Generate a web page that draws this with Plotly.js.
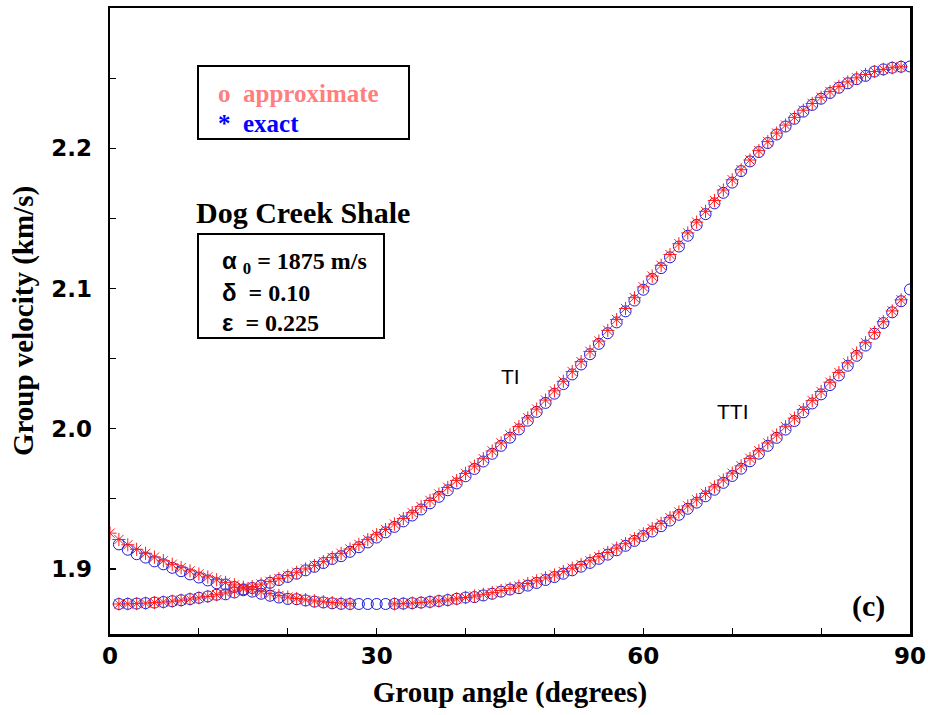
<!DOCTYPE html>
<html>
<head>
<meta charset="utf-8">
<script src="https://cdn.plot.ly/plotly-3.0.1.min.js"></script>
<style>html,body{margin:0;padding:0;background:#fff;} #chart{width:928px;height:715px;}</style>
</head>
<body>
<div id="chart"></div>
<script>
// Group angle (degrees), 0..90 in 1-degree steps
const angles = [0,1,2,3,4,5,6,7,8,9,10,11,12,13,14,15,16,17,18,19,20,21,22,23,24,25,26,27,28,29,30,31,32,33,34,35,36,37,38,39,40,41,42,43,44,45,46,47,48,49,50,51,52,53,54,55,56,57,58,59,60,61,62,63,64,65,66,67,68,69,70,71,72,73,74,75,76,77,78,79,80,81,82,83,84,85,86,87,88,89,90];

// TI curve, exact (red asterisks), km/s
const tiExact = [null,1.8750,1.8751,1.8753,1.8756,1.8760,1.8764,1.8770,1.8777,1.8785,
 1.8794,1.8804,1.8816,1.8829,1.8842,1.8858,1.8874,1.8892,1.8911,1.8931,
 1.8953,1.8976,1.9000,1.9025,1.9052,1.9081,1.9111,1.9142,1.9175,1.9209,
 1.9244,1.9281,1.9320,1.9359,1.9401,1.9444,1.9488,1.9534,1.9581,1.9630,
 1.9681,1.9733,1.9786,1.9841,1.9898,1.9956,2.0015,2.0077,2.0140,2.0204,
 2.0270,2.0338,2.0407,2.0478,2.0551,2.0625,2.0701,2.0778,2.0857,2.0934,
 2.1011,2.1088,2.1165,2.1242,2.1319,2.1396,2.1473,2.1550,2.1627,2.1702,
 2.1775,2.1847,2.1916,2.1983,2.2047,2.2108,2.2165,2.2220,2.2271,2.2319,
 2.2363,2.2404,2.2441,2.2473,2.2502,2.2526,2.2547,2.2562,2.2574,2.2581,null];

// TI curve, approximate (blue circles), km/s
const tiApprox = [null,1.8750,1.8751,1.8753,1.8756,1.8760,1.8764,1.8770,1.8777,1.8785,
 1.8794,1.8804,1.8816,1.8819,1.8832,1.8848,1.8864,1.8882,1.8901,1.8921,
 1.8943,1.8966,1.8990,1.9015,1.9042,1.9071,1.9091,1.9122,1.9155,1.9189,
 1.9224,1.9261,1.9300,1.9339,1.9381,1.9424,1.9468,1.9514,1.9561,1.9610,
 1.9661,1.9713,1.9766,1.9821,1.9878,1.9936,1.9995,2.0057,2.0120,2.0184,
 2.0250,2.0318,2.0387,2.0458,2.0531,2.0605,2.0681,2.0758,2.0837,2.0914,
 2.0991,2.1068,2.1145,2.1222,2.1299,2.1376,2.1453,2.1530,2.1607,2.1682,
 2.1755,2.1837,2.1906,2.1973,2.2037,2.2098,2.2155,2.2210,2.2261,2.2309,
 2.2353,2.2394,2.2431,2.2463,2.2492,2.2516,2.2547,2.2562,2.2574,2.2581,2.2583];

// TTI curve, exact (red asterisks), km/s
const ttiExact = [1.9255,1.9210,1.9172,1.9140,1.9111,1.9084,1.9058,1.9033,1.9009,1.8986,
 1.8964,1.8943,1.8923,1.8904,1.8886,1.8869,1.8853,1.8838,1.8824,1.8811,
 1.8799,1.8789,1.8780,1.8772,1.8766,1.8760,1.8756,1.8753,null,null,
 null,null,1.8751,1.8753,1.8756,1.8760,1.8765,1.8771,1.8778,1.8787,
 1.8796,1.8807,1.8819,1.8831,1.8846,1.8861,1.8878,1.8896,1.8915,1.8936,
 1.8957,1.8981,1.9005,1.9031,1.9058,1.9087,1.9117,1.9148,1.9180,1.9215,
 1.9250,1.9287,1.9325,1.9365,1.9406,1.9449,1.9493,1.9538,1.9585,1.9634,
 1.9683,1.9735,1.9788,1.9842,1.9898,1.9955,2.0014,2.0075,2.0137,2.0200,
 2.0265,2.0331,2.0400,2.0469,2.0540,2.0613,2.0687,2.0763,2.0840,2.0919,null];

// TTI curve, approximate (blue circles), km/s
const ttiApprox = [null,1.9175,1.9137,1.9105,1.9081,1.9054,1.9033,1.9008,1.8984,1.8961,
 1.8939,1.8918,1.8898,1.8889,1.8871,1.8854,1.8838,1.8823,1.8809,1.8796,
 1.8786,1.8784,1.8775,1.8767,1.8761,1.8755,1.8751,1.8750,1.8750,1.8750,
 1.8750,1.8750,1.8751,1.8753,1.8756,1.8760,1.8765,1.8771,1.8778,1.8787,
 1.8796,1.8799,1.8811,1.8823,1.8838,1.8853,1.8863,1.8881,1.8900,1.8921,
 1.8942,1.8966,1.8990,1.9016,1.9043,1.9072,1.9102,1.9133,1.9165,1.9200,
 1.9235,1.9267,1.9305,1.9345,1.9386,1.9429,1.9473,1.9518,1.9565,1.9614,
 1.9663,1.9715,1.9768,1.9822,1.9878,1.9935,1.9994,2.0055,2.0117,2.0180,
 2.0245,2.0311,2.0380,2.0449,2.0520,2.0593,2.0677,2.0753,2.0830,2.0909,2.0993];

const xTickVals = [0,30,60,90];
const xTickText = ['0','30','60','90'];
const yTickVals = [1.9,2.0,2.1,2.2];
const yTickText = ['1.9','2.0','2.1','2.2'];

const blue = '#1a1adb';
const red = '#ff1a1a';

function circles(y){ return {x: angles, y: y, type:'scatter', mode:'markers', hoverinfo:'skip', showlegend:false,
  marker:{symbol:'circle-open', size:11, color:blue, line:{color:blue, width:1}}}; }
function stars(y){ return {x: angles, y: y, type:'scatter', mode:'markers', hoverinfo:'skip', showlegend:false,
  marker:{symbol:'asterisk-open', size:11, color:red, line:{color:red, width:1}}}; }

const data = [circles(tiApprox), circles(ttiApprox), stars(tiExact), stars(ttiExact)];

const serif = 'Liberation Serif, Times New Roman, serif';
const sans = 'DejaVu Sans, Verdana, sans-serif';
const plain = 'Liberation Sans, Arial, sans-serif';

function px(x){ return (x-110)/800; }
function py(y){ return (634-y)/626; }

const layout = {
  width: 928, height: 715,
  margin: {l:110, r:18, t:8, b:81},
  paper_bgcolor:'#fff', plot_bgcolor:'#fff',
  showlegend:false,
  xaxis: {range:[0,90], tickmode:'array', tickvals:xTickVals, ticktext:xTickText,
    ticks:'inside', ticklen:6, tickwidth:1.2, tickcolor:'#000',
    minor:{tick0:0, dtick:10, ticks:'inside', ticklen:6, tickwidth:1.2, tickcolor:'#000', showgrid:false},
    showline:true, linecolor:'#000', linewidth:2.5, mirror:true, showgrid:false, zeroline:false,
    tickfont:{family:sans, size:23, color:'#000', weight:'bold'},
    title:{text:'<b>Group angle (degrees)</b>', font:{family:serif, size:29, color:'#000'}, standoff:14}},
  yaxis: {range:[1.8536,2.30], tickmode:'array', tickvals:yTickVals, ticktext:yTickText,
    ticks:'inside', ticklen:6, tickwidth:1.2, tickcolor:'#000',
    minor:{tick0:1.85, dtick:0.05, ticks:'inside', ticklen:6, tickwidth:1.2, tickcolor:'#000', showgrid:false},
    showline:true, linecolor:'#000', linewidth:2.5, mirror:true, showgrid:false, zeroline:false,
    ticklabelstandoff:11,
    tickfont:{family:sans, size:23, color:'#000', weight:'bold'},
    title:{text:'<b>Group velocity (km/s)</b>', font:{family:serif, size:29, color:'#000'}, standoff:9}},
  shapes: [
    {type:'rect', xref:'paper', yref:'paper', x0:px(198), x1:px(409), y0:py(139), y1:py(66), line:{color:'#000', width:2}},
    {type:'rect', xref:'paper', yref:'paper', x0:px(198), x1:px(384), y0:py(338), y1:py(234), line:{color:'#000', width:2}}
  ],
  annotations: [
    {xref:'paper', yref:'paper', x:px(216), y:py(93), xanchor:'left', yanchor:'middle', showarrow:false,
     text:'<b>o&nbsp;&nbsp;approximate</b>', font:{family:serif, size:25, color:'#ff7f7f'}},
    {xref:'paper', yref:'paper', x:px(216), y:py(124), xanchor:'left', yanchor:'middle', showarrow:false,
     text:'<b>*&nbsp;&nbsp;exact</b>', font:{family:serif, size:25, color:'#0000ff'}},
    {xref:'paper', yref:'paper', x:px(194), y:py(212), xanchor:'left', yanchor:'middle', showarrow:false,
     text:'<b>Dog Creek Shale</b>', font:{family:serif, size:30, color:'#000'}},
    {xref:'paper', yref:'paper', x:px(220), y:py(262), xanchor:'left', yanchor:'middle', showarrow:false,
     text:'<span style="font-family:Liberation Sans, Arial, sans-serif"><b>α</b></span> <b><sub>0</sub> = 1875 m/s</b>', font:{family:serif, size:24, color:'#000'}},
    {xref:'paper', yref:'paper', x:px(220), y:py(292), xanchor:'left', yanchor:'middle', showarrow:false,
     text:'<span style="font-family:Liberation Sans, Arial, sans-serif"><b>δ</b></span> <b>&nbsp;= 0.10</b>', font:{family:serif, size:24, color:'#000'}},
    {xref:'paper', yref:'paper', x:px(220), y:py(322), xanchor:'left', yanchor:'middle', showarrow:false,
     text:'<span style="font-family:Liberation Sans, Arial, sans-serif"><b>ε</b></span> <b>&nbsp;= 0.225</b>', font:{family:serif, size:24, color:'#000'}},
    {xref:'paper', yref:'paper', x:px(510), y:py(376), xanchor:'center', yanchor:'middle', showarrow:false,
     text:'TI', font:{family:plain, size:21, color:'#000'}},
    {xref:'paper', yref:'paper', x:px(733), y:py(411), xanchor:'center', yanchor:'middle', showarrow:false,
     text:'TTI', font:{family:plain, size:21, color:'#000'}},
    {xref:'paper', yref:'paper', x:px(868), y:py(606), xanchor:'center', yanchor:'middle', showarrow:false,
     text:'<b>(c)</b>', font:{family:serif, size:30, color:'#000'}}
  ]
};

Plotly.newPlot('chart', data, layout, {staticPlot:true, displayModeBar:false});
</script>
</body>
</html>
